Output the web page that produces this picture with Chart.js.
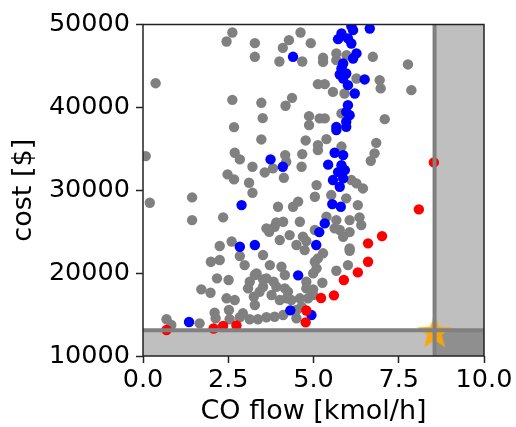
<!DOCTYPE html>
<html>
<head>
<meta charset="utf-8">
<script src="https://cdn.jsdelivr.net/npm/chart.js@4/dist/chart.umd.min.js"></script>
<style>
  html, body { margin: 0; padding: 0; background: #fff; }
  #c { display: block; }
</style>
</head>
<body>
<canvas id="c" width="516" height="427"></canvas>
<script>
// ---- data ----
const grayX = [2.62,2.45,3.28,3.28,4.62,4.28,4.10,4.00,4.67,4.92,0.37,2.62,3.47,4.37,4.18,3.51,2.67,4.87,4.87,5.28,5.28,5.67,5.67,6.74,7.77,5.13,5.33,5.57,5.91,6.26,6.94,6.97,7.87,5.18,5.33,5.82,7.09,3.47,4.77,0.08,2.69,2.84,3.21,3.57,3.81,4.17,4.13,4.67,4.65,2.48,2.67,3.11,3.21,0.20,1.44,1.44,2.35,3.96,4.40,4.55,3.62,3.91,4.11,3.70,4.01,4.30,4.69,4.79,4.50,2.25,2.60,5.38,5.13,5.13,5.82,6.84,6.79,6.68,5.09,6.11,6.26,6.45,5.04,5.52,5.96,6.30,6.06,6.35,6.40,5.67,5.38,4.60,5.77,5.87,6.06,5.04,5.62,6.06,3.86,1.99,2.25,2.84,2.98,3.52,3.33,3.72,4.06,4.16,2.17,2.51,3.13,3.52,3.83,1.71,1.98,3.08,3.42,3.52,3.91,4.16,2.45,2.69,3.25,3.28,3.77,4.01,4.21,2.52,2.10,2.13,2.54,2.84,3.13,3.37,3.62,3.86,4.11,0.69,0.83,1.66,2.93,4.50,4.60,4.74,5.28,6.06,5.04,5.09,4.99,5.67,6.01,5.26,4.79,4.99,4.99,4.65,4.35,4.79,4.50,3.62,3.28,4.25,5.13,4.84,5.97,4.20];
const grayY = [49040,47950,47750,46100,49040,48110,47180,45540,45540,47750,42920,40910,40550,41150,40190,38700,37620,38940,37860,45980,45490,46510,45700,46100,45180,42800,42800,41870,41680,43490,43290,42290,42080,38670,38670,39270,38580,36130,36010,34120,34520,33720,32830,32150,32640,34240,31500,34360,32830,31910,31310,30900,29690,28490,29140,26400,26730,28010,28010,28630,25400,26120,26200,24990,23990,24590,24410,23870,23390,23270,23810,36170,35450,34840,35270,35720,34450,33550,30620,31230,30830,30220,29210,29420,29020,28210,26400,26730,25800,26400,26800,26200,25200,24390,22990,25200,25400,24950,25590,21370,21580,22060,20970,22180,19970,20970,20770,19770,19370,19170,18960,19250,18960,18040,17630,18160,17750,18360,18360,18160,16960,16750,17150,16150,17360,16750,16960,15550,15220,14550,14430,14670,14430,14430,14670,14740,14940,14430,13740,13940,15150,15550,16960,22780,22390,22700,21370,20580,19970,20290,20970,18840,18960,18040,17360,15950,16750,18160,14550,19370,19770,17750,21780,16960,46300,33430];

const blueX = [4.40,6.65,6.11,6.16,5.82,5.72,6.01,6.11,6.26,6.16,5.87,5.82,5.77,5.96,5.87,6.01,6.21,6.50,6.01,5.96,6.06,5.96,5.67,5.96,5.67,5.62,5.87,5.43,5.57,5.87,5.77,5.55,5.80,5.33,5.17,5.08,3.74,4.10,2.89,2.84,3.28,1.35,4.55,4.32,4.94,5.72,5.92,5.82];
const blueY = [46100,49520,49800,49320,48920,48230,48320,47710,46510,45900,45300,44700,43970,44090,43490,42680,41680,43370,40270,39460,39060,38260,37650,37650,37260,34520,34240,33090,31230,31430,30420,28330,28010,26000,24950,23390,33720,32830,28210,23180,23390,14100,19730,15510,14940,32190,32430,33030];

const redX = [8.53,8.09,7.01,6.60,6.60,6.30,5.89,5.60,5.22,4.79,4.77,0.69,2.07,2.35,2.74];
const redY = [33360,27690,24470,23590,21370,20090,19170,17320,17000,15490,14060,13140,13320,13640,13680];

const starX = [8.55];
const starY = [12800];

const xThreshold = 8.55;     // CO flow limit
const yThreshold = 13100;    // cost limit

const xTicks = [0, 2.5, 5, 7.5, 10];
const yTicks = [10000, 20000, 30000, 40000, 50000];

const xTitle = 'CO flow [kmol/h]';
const yTitle = 'cost [$]';

// ---- helpers ----
const toPts = (xs, ys) => xs.map((v, i) => ({x: v, y: ys[i]}));

function makeStar(R, r, color) {
  const c = document.createElement('canvas');
  const s = Math.ceil(R * 2 + 4);
  c.width = s; c.height = s;
  const g = c.getContext('2d');
  g.translate(s / 2, s / 2);
  g.beginPath();
  for (let i = 0; i < 10; i++) {
    const rad = i % 2 === 0 ? R : r;
    const a = -Math.PI / 2 + i * Math.PI / 5;
    const px = rad * Math.cos(a), py = rad * Math.sin(a);
    if (i === 0) g.moveTo(px, py); else g.lineTo(px, py);
  }
  g.closePath();
  g.fillStyle = color;
  g.fill();
  return c;
}
const starImg = makeStar(18, 7.5, 'rgba(255,165,0,0.92)');

const FONT = '"DejaVu Sans", "Liberation Sans", sans-serif';

const decor = {
  id: 'decor',
  beforeDatasetsDraw(chart) {
    const {ctx, chartArea: a, scales: {x, y}} = chart;
    ctx.save();
    ctx.fillStyle = 'rgba(0,0,0,0.25)';
    const xp = x.getPixelForValue(xThreshold);
    ctx.fillRect(xp, a.top, a.right - xp, a.bottom - a.top);
    const yp = y.getPixelForValue(yThreshold);
    ctx.fillRect(a.left, yp, a.right - a.left, a.bottom - yp);
    ctx.restore();
  },
  afterDatasetsDraw(chart) {
    const {ctx, chartArea: a, scales: {x, y}} = chart;
    ctx.save();
    ctx.strokeStyle = '#808080';
    ctx.lineWidth = 4;
    const xp = x.getPixelForValue(xThreshold);
    const yp = y.getPixelForValue(yThreshold);
    ctx.beginPath();
    ctx.moveTo(xp, a.top); ctx.lineTo(xp, a.bottom);
    ctx.moveTo(a.left, yp); ctx.lineTo(a.right, yp);
    ctx.stroke();
    ctx.restore();
  },
  afterDraw(chart) {
    const {ctx, chartArea: a} = chart;
    ctx.save();
    ctx.strokeStyle = '#222';
    ctx.lineWidth = 1.5;
    ctx.strokeRect(a.left, a.top, a.right - a.left, a.bottom - a.top);
    ctx.restore();
  }
};

const ptStyle = (color) => ({
  pointRadius: 5.2,
  pointHoverRadius: 5.2,
  pointBackgroundColor: color,
  pointBorderColor: color,
  pointBorderWidth: 0,
  backgroundColor: color,
  borderColor: color,
  showLine: false,
  clip: 0
});

new Chart(document.getElementById('c'), {
  type: 'scatter',
  data: {
    datasets: [
      Object.assign({label: 'star', data: toPts(starX, starY), pointStyle: starImg, order: 0}, {showLine: false, clip: 0, pointRadius: 18}),
      Object.assign({label: 'red', data: toPts(redX, redY), order: 1}, ptStyle('#ff0000')),
      Object.assign({label: 'blue', data: toPts(blueX, blueY), order: 2}, ptStyle('#0000ff')),
      Object.assign({label: 'gray', data: toPts(grayX, grayY), order: 3}, ptStyle('#808080'))
    ]
  },
  options: {
    responsive: false,
    animation: false,
    devicePixelRatio: 1,
    layout: { padding: { top: 24.5, right: 32, left: 0, bottom: 0 } },
    plugins: { legend: { display: false }, tooltip: { enabled: false } },
    scales: {
      x: {
        type: 'linear',
        min: 0, max: 10,
        afterBuildTicks: s => { s.ticks = xTicks.map(v => ({value: v})); },
        afterFit: s => { s.height = 71; },
        ticks: {
          color: '#000',
          font: { family: FONT, size: 25.5 },
          padding: 2,
          maxRotation: 0,
          callback: v => Number(v).toFixed(1)
        },
        grid: { display: true, drawOnChartArea: false, drawTicks: true, tickLength: 7, tickColor: '#222', tickWidth: 1.5 },
        border: { display: false },
        title: {
          display: true, text: xTitle, color: '#000',
          font: { family: FONT, size: 27, lineHeight: 1.1 },
          padding: { top: 0, bottom: 0 }
        }
      },
      y: {
        type: 'linear',
        min: 10000, max: 50000,
        afterBuildTicks: s => { s.ticks = yTicks.map(v => ({value: v})); },
        afterFit: s => { s.width = 143; },
        ticks: {
          color: '#000',
          font: { family: FONT, size: 25.5 },
          padding: 6,
          callback: v => String(v)
        },
        grid: { display: true, drawOnChartArea: false, drawTicks: true, tickLength: 7, tickColor: '#222', tickWidth: 1.5 },
        border: { display: false },
        title: {
          display: true, text: yTitle, color: '#000',
          font: { family: FONT, size: 27, lineHeight: 1.1 },
          padding: { top: 9, bottom: 0 }
        }
      }
    }
  },
  plugins: [decor]
});
</script>
</body>
</html>
